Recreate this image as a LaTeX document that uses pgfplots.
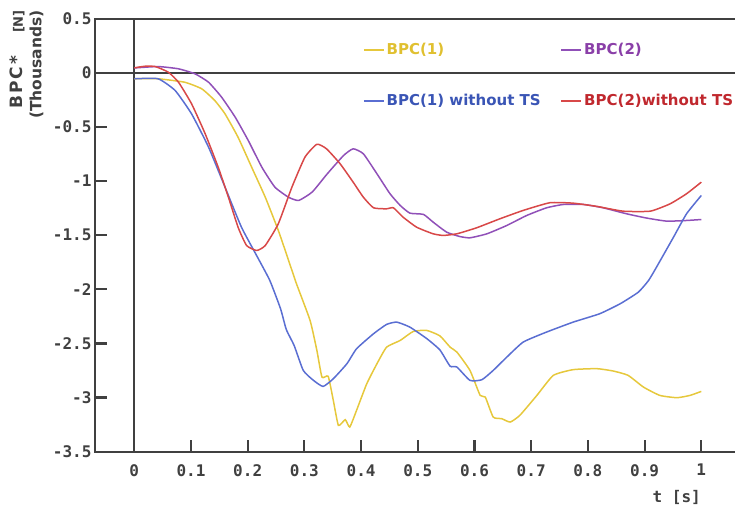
\documentclass[border=0pt]{standalone}
\usepackage{pgfplots}
\pgfplotsset{compat=1.18}
\usepackage{fontspec}
\setmainfont{DejaVu Sans}
\setmonofont{DejaVu Sans Mono}
\newfontfamily\ylabfont[LetterSpace=12]{DejaVu Sans}
\definecolor{cyel}{HTML}{E6C83C}
\definecolor{cpur}{HTML}{9050B8}
\definecolor{cblu}{HTML}{5A6ED2}
\definecolor{cred}{HTML}{D84848}
\definecolor{tyel}{HTML}{E0C030}
\definecolor{tpur}{HTML}{8A3FA8}
\definecolor{tblu}{HTML}{3A55B5}
\definecolor{tred}{HTML}{C0282E}
\definecolor{axgray}{HTML}{404040}
\newcommand{\tickfont}{\ttfamily\bfseries\fontsize{16}{16}\selectfont}
\begin{document}
\begin{tikzpicture}
\begin{axis}[
  scale only axis, width=650pt, height=433pt,
  xmin=-0.0693, xmax=1.0771, ymin=-3.5, ymax=0.5,
  axis line style={line width=2pt, color=axgray},
  xtick pos=bottom, ytick pos=left,
  xtick align=inside, ytick align=inside, major tick length=10pt,
  xtick style={line width=2pt, draw=axgray},
  ytick style={line width=2pt, draw=axgray},
  xtick={0,0.1,0.2,0.3,0.4,0.5,0.6,0.7,0.8,0.9,1},
  xticklabels={0,0.1,0.2,0.3,0.4,0.5,0.6,0.7,0.8,0.9,1},
  ytick={-3.5,-3,-2.5,-2,-1.5,-1,-0.5,0,0.5},
  yticklabels={-3.5,-3,-2.5,-2,-1.5,-1,-0.5,0,0.5},
  xticklabel style={font=\tickfont, text=axgray, yshift=-9pt},
  yticklabel style={font=\tickfont, text=axgray},
  clip=false,
  legend columns=2,
  legend cell align=left,
  legend style={draw=none, fill=none, at={(axis cs:0.398,0.31)}, anchor=north west,
    font=\bfseries\fontsize{15}{15}\selectfont, row sep=34pt,
    /tikz/every even column/.append style={column sep=18pt}},
  legend image code/.code={\draw[line width=1.5pt] (0pt,0pt) -- (20pt,0pt);},
]
\draw[line width=2pt, color=axgray] (axis cs:-0.0693,0) -- (axis cs:1.0771,0);
\draw[line width=2pt, color=axgray] (axis cs:0,-3.5) -- (axis cs:0,0.5);

\addplot[cyel, line width=1.5pt, smooth, tension=0.3] coordinates {
(0,-0.055) (0.042,-0.055) (0.089,-0.087) (0.119,-0.148) (0.142,-0.256) (0.160,-0.379)
(0.183,-0.595) (0.207,-0.872) (0.231,-1.149) (0.254,-1.456) (0.270,-1.70) (0.286,-1.948)
(0.310,-2.287) (0.322,-2.564) (0.331,-2.811) (0.342,-2.804) (0.351,-3.026) (0.360,-3.257)
(0.372,-3.204) (0.380,-3.272) (0.392,-3.118) (0.410,-2.872) (0.428,-2.687) (0.445,-2.534)
(0.469,-2.472) (0.492,-2.389) (0.516,-2.380) (0.539,-2.43) (0.557,-2.534) (0.569,-2.580)
(0.592,-2.749) (0.610,-2.980) (0.619,-2.995) (0.633,-3.180) (0.648,-3.195) (0.663,-3.226)
(0.680,-3.164) (0.710,-2.980) (0.739,-2.795) (0.774,-2.742) (0.816,-2.733) (0.845,-2.755)
(0.871,-2.795) (0.898,-2.903) (0.927,-2.980) (0.957,-3.001) (0.980,-2.980) (1.0,-2.943)
};
\addlegendentry{\textcolor{tyel}{BPC(1)}}

\addplot[cpur, line width=1.5pt, smooth, tension=0.3] coordinates {
(0,0.045) (0.042,0.058) (0.078,0.037) (0.107,-0.009) (0.131,-0.087) (0.154,-0.225)
(0.178,-0.410) (0.201,-0.625) (0.225,-0.872) (0.248,-1.056) (0.272,-1.149) (0.290,-1.179)
(0.314,-1.10) (0.340,-0.935) (0.369,-0.764) (0.386,-0.702) (0.404,-0.748) (0.428,-0.933)
(0.451,-1.117) (0.469,-1.225) (0.486,-1.296) (0.510,-1.308) (0.527,-1.379) (0.551,-1.472)
(0.574,-1.512) (0.592,-1.524) (0.622,-1.487) (0.657,-1.410) (0.692,-1.318) (0.727,-1.247)
(0.757,-1.216) (0.792,-1.216) (0.827,-1.247) (0.868,-1.302) (0.904,-1.342) (0.939,-1.370)
(0.974,-1.364) (1.0,-1.355)
};
\addlegendentry{\textcolor{tpur}{BPC(2)}}

\addplot[cblu, line width=1.5pt, smooth, tension=0.3] coordinates {
(0,-0.055) (0.042,-0.055) (0.072,-0.163) (0.101,-0.379) (0.131,-0.687) (0.160,-1.056)
(0.189,-1.426) (0.217,-1.70) (0.239,-1.918) (0.258,-2.18) (0.268,-2.37) (0.282,-2.52)
(0.298,-2.749) (0.316,-2.841) (0.333,-2.897) (0.351,-2.826) (0.375,-2.687) (0.392,-2.549)
(0.422,-2.41) (0.445,-2.324) (0.463,-2.303) (0.486,-2.349) (0.516,-2.456) (0.539,-2.56)
(0.557,-2.71) (0.569,-2.718) (0.592,-2.841) (0.613,-2.835) (0.633,-2.749) (0.657,-2.626)
(0.686,-2.487) (0.727,-2.395) (0.774,-2.303) (0.821,-2.225) (0.857,-2.133) (0.889,-2.026)
(0.907,-1.918) (0.921,-1.795) (0.951,-1.518) (0.974,-1.302) (1.0,-1.133)
};
\addlegendentry{\textcolor{tblu}{BPC(1) without TS}}

\addplot[cred, line width=1.5pt, smooth, tension=0.3] coordinates {
(0,0.046) (0.019,0.061) (0.037,0.058) (0.060,0.006) (0.078,-0.087) (0.101,-0.286)
(0.125,-0.563) (0.148,-0.872) (0.166,-1.149) (0.183,-1.426) (0.198,-1.595) (0.216,-1.641)
(0.231,-1.595) (0.254,-1.394) (0.278,-1.056) (0.301,-0.779) (0.322,-0.660) (0.339,-0.702)
(0.363,-0.840) (0.386,-1.010) (0.404,-1.149) (0.422,-1.247) (0.445,-1.256) (0.457,-1.247)
(0.474,-1.333) (0.498,-1.426) (0.527,-1.487) (0.545,-1.502) (0.569,-1.487) (0.604,-1.431)
(0.645,-1.348) (0.686,-1.271) (0.733,-1.200) (0.774,-1.204) (0.816,-1.234) (0.862,-1.278)
(0.910,-1.278) (0.945,-1.210) (0.974,-1.117) (1.0,-1.010)
};
\addlegendentry{\textcolor{tred}{BPC(2)without TS}}
\end{axis}
% inside ticks
\foreach \i in {1,...,10} {\draw[line width=2.2pt, draw=axgray] ({(\i/10+0.0693)*567pt},0pt) -- ++(0pt,12pt);}
\foreach \i in {1,...,6} {\draw[line width=2.2pt, draw=axgray] (0pt,{\i*54.125pt}) -- ++(12pt,0pt);}
% y label
\node[rotate=90, anchor=base west, font=\ylabfont\bfseries\fontsize{17}{17}\selectfont, text=axgray, inner sep=0pt] at (-72pt,343pt) {BPC*};
\node[rotate=90, anchor=base east, font=\bfseries\fontsize{13}{13}\selectfont, text=axgray, inner sep=0pt] at (-72pt,441.7pt) {[N]};
\node[rotate=90, anchor=base east, font=\bfseries\fontsize{15.5}{15.5}\selectfont, text=axgray, inner sep=0pt] at (-53.5pt,441.7pt) {(Thousands)};
\node[anchor=base east, font=\tickfont, text=axgray, inner sep=0pt] at (606pt,-50.3pt) {t [s]};
\pgfresetboundingbox
\path (-95pt,-55.3pt) rectangle (640pt,451.7pt);
\end{tikzpicture}
\end{document}
